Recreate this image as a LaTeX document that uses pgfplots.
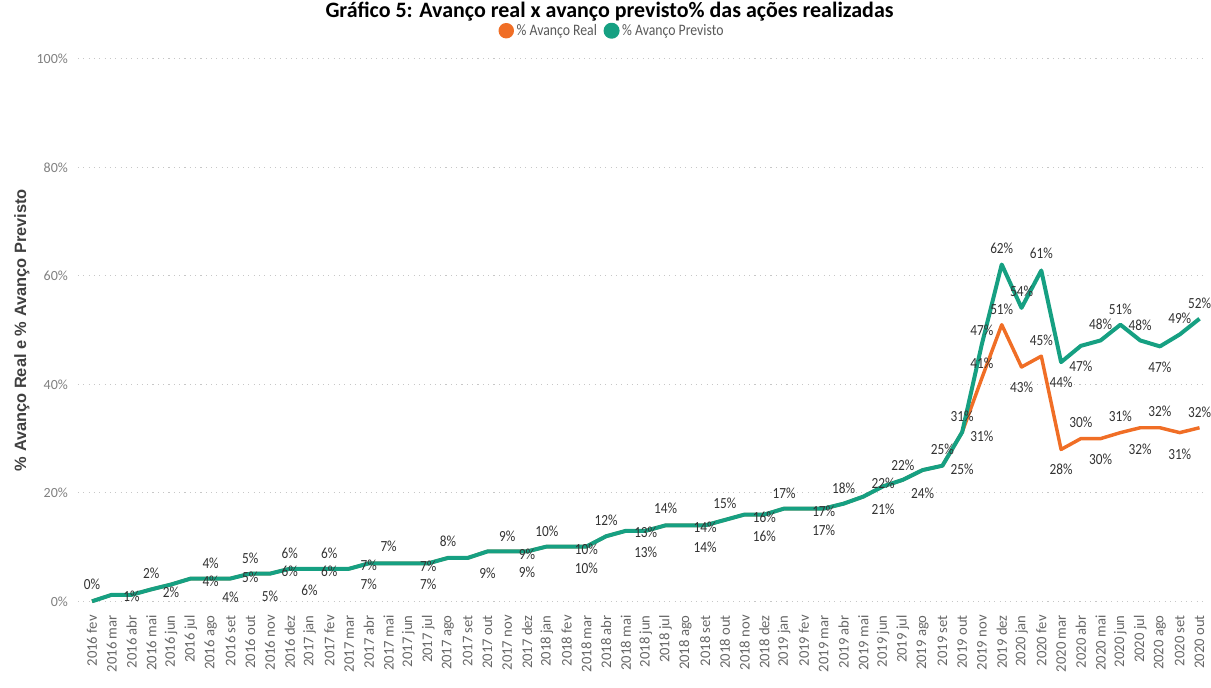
\documentclass[border=0pt]{standalone}
\usepackage{fontspec}
\usepackage{pgfplots}
\pgfplotsset{compat=1.18}
\setmainfont{Liberation Sans}
\newfontfamily\lblfont[FakeStretch=0.86]{Carlito}
\newfontfamily\titlefont{Carlito}
\definecolor{real}{RGB}{240,110,38}
\definecolor{prev}{RGB}{22,160,130}
\definecolor{lbl}{RGB}{50,50,50}

\begin{document}
\begin{tikzpicture}
\path (-58.5pt,-64.5pt) rectangle (849.75pt,451.5pt);
\begin{axis}[
    at={(0,0)}, anchor=south west,
    scale only axis, width=847.5pt, height=407.25pt,
    xmin=-0.71, xmax=56.36, ymin=0, ymax=100,
    clip=false,
    axis line style={draw=none}, tick style={draw=none},
    xtick={0,...,56},
    xticklabels={2016 fev,2016 mar,2016 abr,2016 mai,2016 jun,2016 jul,2016 ago,2016 set,2016 out,2016 nov,2016 dez,
      2017 jan,2017 fev,2017 mar,2017 abr,2017 mai,2017 jun,2017 jul,2017 ago,2017 set,2017 out,2017 nov,2017 dez,
      2018 jan,2018 fev,2018 mar,2018 abr,2018 mai,2018 jun,2018 jul,2018 ago,2018 set,2018 out,2018 nov,2018 dez,
      2019 jan,2019 fev,2019 mar,2019 abr,2019 mai,2019 jun,2019 jul,2019 ago,2019 set,2019 out,2019 nov,2019 dez,
      2020 jan,2020 fev,2020 mar,2020 abr,2020 mai,2020 jun,2020 jul,2020 ago,2020 set,2020 out},
    xticklabel style={rotate=90, anchor=east, font=\titlefont\fontsize{11}{12}\selectfont, text=black!60, xshift=-7pt},
    ytick={0,20,...,100},
    yticklabels={0\%,20\%,40\%,60\%,80\%,100\%},
    yticklabel style={font=\titlefont\fontsize{10.5}{11}\selectfont, text=black!50, xshift=-4pt},
    ymajorgrids,
    major grid style={black!22, line width=0.8pt, dash pattern=on 0.8pt off 3.2pt},
    ylabel={\% Avanço Real e \% Avanço Previsto},
    ylabel style={at={(axis description cs:-0.0496,0.5)}, anchor=center, font=\bfseries\fontsize{12.3}{13}\selectfont, text=black!75},
    legend columns=2,
    legend style={draw=none, fill=none, at={(axis description cs:0.4735,1.052)}, anchor=center,
      font=\lblfont\fontsize{12}{13}\selectfont, text=black!65,
      /tikz/every even column/.append style={column sep=3pt}},
    legend image code/.code={\fill[#1] (0.12cm,0) circle (4.5pt);},
]
\addplot[real, line width=2.6pt, line join=round] coordinates {
(0,0) (1,1.2) (2,1.2) (3,2.2) (4,3.1) (5,4.2) (6,4.2) (7,4.2) (8,5.1) (9,5.1) (10,6.0)
(11,6.0) (12,6.0) (13,6.0) (14,7.0) (15,7.0) (16,7.0) (17,7.0) (18,8.0) (19,8.0) (20,9.2)
(21,9.2) (22,9.2) (23,10.1) (24,10.1) (25,10.1) (26,12.0) (27,13.0) (28,13.0) (29,14.0) (30,14.0)
(31,14.0) (32,15.0) (33,16.0) (34,16.0) (35,17.1) (36,17.1) (37,17.1) (38,18.0) (39,19.3) (40,21.2)
(41,22.4) (42,24.2) (43,25.0) (44,31.2) (45,41.2) (46,51.0) (47,43.2) (48,45.2) (49,28.0) (50,30.0)
(51,30.0) (52,31.1) (53,32.0) (54,32.0) (55,31.1) (56,32.0)
};
\addplot[prev, line width=3pt, line join=round] coordinates {
(0,0) (1,1.2) (2,1.2) (3,2.2) (4,3.1) (5,4.2) (6,4.2) (7,4.2) (8,5.1) (9,5.1) (10,6.0)
(11,6.0) (12,6.0) (13,6.0) (14,7.0) (15,7.0) (16,7.0) (17,7.0) (18,8.0) (19,8.0) (20,9.2)
(21,9.2) (22,9.2) (23,10.1) (24,10.1) (25,10.1) (26,12.0) (27,13.0) (28,13.0) (29,14.0) (30,14.0)
(31,14.0) (32,15.0) (33,16.0) (34,16.0) (35,17.1) (36,17.1) (37,17.1) (38,18.0) (39,19.3) (40,21.2)
(41,22.4) (42,24.2) (43,25.0) (44,31.2) (45,47.5) (46,62.1) (47,54.1) (48,61.0) (49,44.1) (50,47.1)
(51,48.1) (52,51.0) (53,48.1) (54,47.0) (55,49.2) (56,52.1)
};
\legend{\% Avanço Real,\% Avanço Previsto}
\addplot[forget plot, draw=none, mark=none, nodes near coords={\pgfplotspointmeta}, point meta=explicit symbolic,
    nodes near coords style={anchor=center, inner sep=0pt, font=\lblfont\fontsize{11.6}{12}\selectfont, text=lbl}]
coordinates {
(0,3.1) [0\%] (2,0.9) [1\%] (3,5.1) [2\%] (4,1.6) [2\%]
(6,7.0) [4\%] (6,3.6) [4\%] (7,0.7) [4\%]
(8,8.0) [5\%] (8,4.5) [5\%] (9,0.9) [5\%]
(10,8.8) [6\%] (10,5.5) [6\%] (11,2.1) [6\%] (12,8.8) [6\%] (12,5.5) [6\%]
(14,6.6) [7\%] (14,3.1) [7\%] (15,10.1) [7\%] (17,6.5) [7\%] (17,3.1) [7\%]
(18,11.1) [8\%] (20,5.2) [9\%] (21,12.0) [9\%] (22,8.7) [9\%] (22,5.3) [9\%]
(23,13.0) [10\%] (25,9.6) [10\%] (25,6.1) [10\%] (26,14.9) [12\%]
(28,12.8) [13\%] (28,9.1) [13\%] (29,17.1) [14\%] (31,13.6) [14\%] (31,9.9) [14\%]
(32,18.0) [15\%] (34,15.4) [16\%] (34,12.0) [16\%]
(35,20.0) [17\%] (37,16.6) [17\%] (37,13.1) [17\%] (38,20.9) [18\%]
(40,21.7) [22\%] (40,16.9) [21\%] (41,25.0) [22\%] (42,20.0) [24\%]
(43,28.0) [25\%] (44,24.4) [25\%] (44,34.1) [31\%] (45,30.4) [31\%]
(45,50.0) [47\%] (45,43.8) [41\%] (46,65.0) [62\%] (46,53.8) [51\%]
(47,57.1) [54\%] (47,39.4) [43\%] (48,64.1) [61\%] (48,48.1) [45\%]
(49,40.3) [44\%] (49,24.3) [28\%] (50,43.3) [47\%] (50,33.0) [30\%]
(51,51.0) [48\%] (51,26.2) [30\%] (52,53.8) [51\%] (52,34.1) [31\%]
(53,50.8) [48\%] (53,28.0) [32\%] (54,43.2) [47\%] (54,35.0) [32\%]
(55,52.1) [49\%] (55,27.1) [31\%] (56,55.0) [52\%] (56,34.9) [32\%]
};
\node[overlay, anchor=base, inner sep=0pt, font=\titlefont\bfseries\fontsize{16.5}{18}\selectfont]
  at (rel axis cs:0.471,1.0767) {Gráfico 5: Avanço real x avanço previsto\% das ações realizadas};
\end{axis}
\end{tikzpicture}
\end{document}
